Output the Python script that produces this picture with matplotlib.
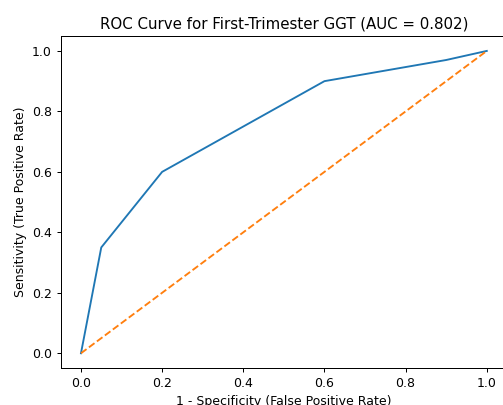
import matplotlib
matplotlib.use("Agg")
import matplotlib.pyplot as plt

# ROC points
fpr = [0.0, 0.05, 0.2, 0.6, 0.9, 1.0]
tpr = [0.0, 0.35, 0.6, 0.9, 0.97, 1.0]
chance = [0.0, 1.0]
auc_value = 0.802

# reference looks like a default figure rendered at 90 dpi and then cropped,
# so use 90 dpi and place the axes where the crop left them
fig = plt.figure(figsize=(5.6, 4.5), dpi=90)
ax = fig.add_axes([0.1204, 0.0904, 0.8857, 0.8212])

ax.plot(fpr, tpr)
ax.plot(chance, chance, linestyle='--')

ax.set_title(f'ROC Curve for First-Trimester GGT (AUC = {auc_value:.3f})')
ax.set_xlabel('1 - Specificity (False Positive Rate)')
ax.set_ylabel('Sensitivity (True Positive Rate)')

fig.savefig('out.png', dpi=90)
